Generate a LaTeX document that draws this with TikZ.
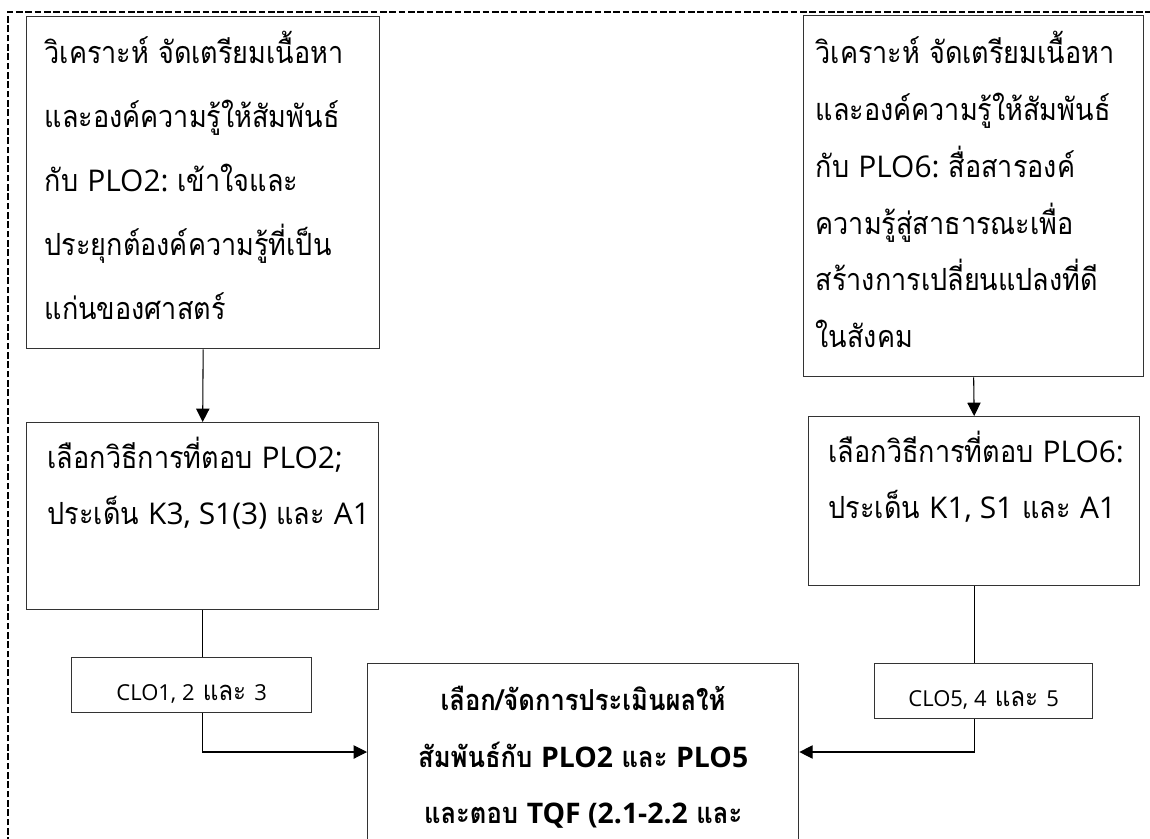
\documentclass[tikz,border=0pt]{standalone}
\usepackage{fontspec}
\newfontfamily\thaifont[Script=Thai,FakeStretch=0.885]{Loma}
\newfontfamily\latfont[Scale=0.98]{Open Sans}
\newfontfamily\latsmall[Scale=0.805]{Open Sans}
\newcommand{\lat}[1]{{\latfont #1}}
\newcommand{\lats}[1]{{\latsmall #1}}
\usetikzlibrary{arrows.meta,calc}
\newcommand{\tbox}[6]{%
  \begin{minipage}[t][#2][t]{#1}\raggedright\parindent=0pt\leftskip=#3
  \thaifont\fontsize{22.9pt}{#5}\selectfont\rule{0pt}{#4}#6\end{minipage}}
\newcommand{\cbox}[4]{%
  \begin{minipage}[t][#2][t]{#1}\centering\parindent=0pt
  \thaifont\fontsize{20.5pt}{22pt}\selectfont\rule{0pt}{#3}#4\end{minipage}}
\tikzset{
  stepbox/.style={draw=black!80, line width=1pt, inner sep=0pt, anchor=north west, fill=white},
  arr/.style={draw=black, line width=0.8pt, -{Triangle[width=10pt,length=10pt]}},
  ln/.style={draw=black, line width=0.8pt},
  frame/.style={draw=black, line width=1.2pt, dash pattern=on 5pt off 2pt}
}
\begin{document}
\begin{tikzpicture}[x=0.75pt,y=-0.75pt]
\useasboundingbox (0,0) rectangle (1150,839);
\clip (0,0) rectangle (1150,839);
\draw[frame] (8,900) -- (8,12) -- (1200,12);

\node[stepbox] (A) at (26,16) {\tbox{264.75pt}{249pt}{13.5pt}{35.25pt}{48pt}{%
วิเคราะห์~จัดเตรียมเนื้อหา\\
และองค์ความรู้ให้สัมพันธ์\\
กับ~\lat{PLO2:}~เข้าใจและ\\
ประยุกต์องค์ความรู้ที่เป็น\\
แก่นของศาสตร์}};

\node[stepbox] (B) at (26,422) {\tbox{264pt}{140.25pt}{15.75pt}{34.5pt}{42pt}{%
เลือกวิธีการที่ตอบ~\lat{PLO2;}\\
ประเด็น~\lat{K3,~S1(3)}~และ~\lat{A1}}};

\node[stepbox] (C) at (803,15) {\tbox{255pt}{270.75pt}{9pt}{36pt}{42.6pt}{%
วิเคราะห์~จัดเตรียมเนื้อหา\\
และองค์ความรู้ให้สัมพันธ์\\
กับ~\lat{PLO6:}~สื่อสารองค์\\
ความรู้สู่สาธารณะเพื่อ\\
สร้างการเปลี่ยนแปลงที่ดี\\
ในสังคม}};

\node[stepbox] (D) at (808,416) {\tbox{248.25pt}{126.75pt}{15pt}{34.5pt}{42pt}{%
เลือกวิธีการที่ตอบ~\lat{PLO6:}\\
ประเด็น~\lat{K1,~S1}~และ~\lat{A1}}};

\node[stepbox] (L) at (71,657) {\cbox{180pt}{41.25pt}{32.25pt}{\lats{CLO1,~2}~และ~\lats{3}}};
\node[stepbox] (R) at (874,663) {\cbox{163.5pt}{41.25pt}{32.25pt}{\lats{CLO5,~4}~และ~\lats{5}}};

\node[stepbox] (E) at (367,663) {%
  \begin{minipage}[t][190pt][t]{323.25pt}\centering\parindent=0pt
  \thaifont\bfseries\fontsize{21.7pt}{42.4pt}\selectfont\rule{0pt}{35.25pt}%
  เลือก/จัดการประเมินผลให้\\
  สัมพันธ์กับ~\lat{\bfseries PLO2}~และ~\lat{\bfseries PLO5}\\
  และตอบ~\lat{\bfseries TQF~(2.1-2.2}~และ\end{minipage}};

\draw[arr] (A.south) -- (B.north);
\draw[ln] (B.south) -- (B.south |- L.north);
\draw[arr] (B.south |- L.south) |- ($(E.north west)+(0,89)$);

\draw[arr] (C.south) -- (D.north);
\draw[ln] (D.south) -- (D.south |- R.north);
\draw[arr] (D.south |- R.south) |- ($(E.north east)+(0,89)$);
\end{tikzpicture}
\end{document}
